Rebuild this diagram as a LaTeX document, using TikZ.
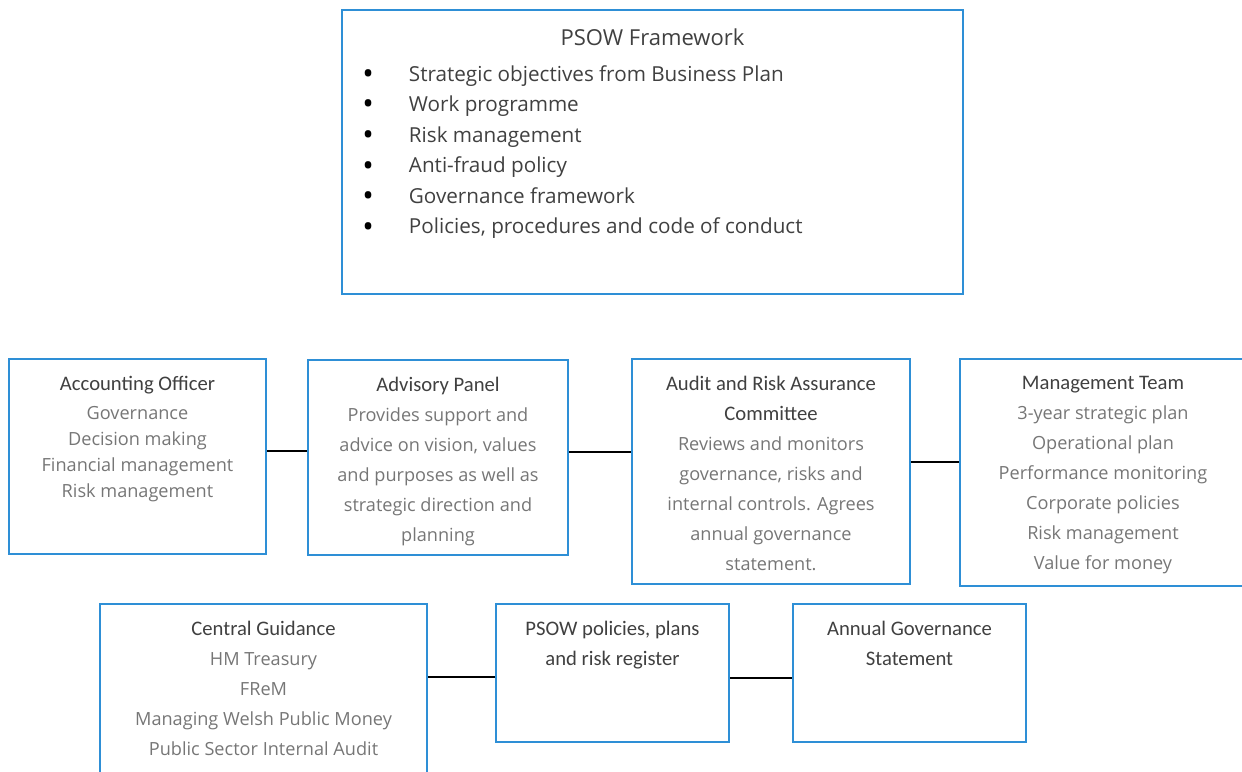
\documentclass[tikz,border=0pt]{standalone}
\usepackage{fontspec}
\setmainfont{Open Sans}
\newfontfamily\headfont{Carlito}
\usetikzlibrary{positioning}
\definecolor{boxblue}{RGB}{46,143,214}
\definecolor{headgray}{RGB}{64,64,64}
\definecolor{bodygray}{RGB}{118,118,118}
\newcommand{\hd}[1]{{\headfont\fontsize{15.5}{22.5}\selectfont\color{headgray}#1}}
\newcommand{\bul}{\makebox[35pt][l]{\raisebox{-2.5pt}{\fontsize{23}{20}\selectfont\color{black}\textbullet}}}
\tikzset{
  panel/.style={draw=boxblue, line width=1.5pt, anchor=north west, inner sep=0pt},
  panel text/.style={align=center, text=bodygray, inner sep=0pt, font=\fontsize{13.6}{22.5}\selectfont},
  link/.style={line width=1.5pt, black}
}
\begin{document}
\begin{tikzpicture}[x=0.75pt, y=-0.75pt]
  \clip (0,0) rectangle (1242,771);
  % frame at the top
  \node[panel, minimum width=465.75pt, minimum height=213pt] (frame) at (341,9) {};
  \node[below=14.5pt of frame.north, text=headgray, inner sep=0pt, font=\fontsize{16.5}{20}\selectfont] (frametitle) {PSOW Framework};
  \node[below right=42pt and 15.75pt of frame.north west, anchor=north west, align=left, text=headgray, inner sep=0pt,
        font=\fontsize{15.5}{22.9}\selectfont] (framelist)
    {\bul Strategic objectives from Business Plan\\
     \bul Work programme\\
     \bul Risk management\\
     \bul Anti-fraud policy\\
     \bul Governance framework\\
     \bul Policies, procedures and code of conduct};
  % middle row
  \node[panel, minimum width=192.75pt, minimum height=146.25pt] (ao) at (8,358) {};
  \node[panel, minimum width=195pt, minimum height=146.25pt] (ap) at (307,359) {};
  \node[panel, minimum width=208.5pt, minimum height=168.75pt] (au) at (631,358) {};
  \node[panel, minimum width=214.5pt, minimum height=170.25pt] (mt) at (959,358) {};
  \node[panel text, below=13.5pt of ao.north, font=\fontsize{13.6}{19.5}\selectfont] (aotext)
    {\hd{Accounting Officer}\\[2.5pt] Governance\\ Decision making\\ Financial management\\ Risk management};
  \node[panel text, below=13.5pt of ap.north] (aptext)
    {\hd{Advisory Panel}\\ Provides support and\\ advice on vision, values\\ and purposes as well as\\ strategic direction and\\ planning};
  \node[panel text, below=13.5pt of au.north] (autext)
    {\hd{Audit and Risk Assurance}\\ \hd{Committee}\\ Reviews and monitors\\ governance, risks and\\ internal controls. Agrees\\ annual governance\\ statement.};
  \node[panel text, below=13.5pt of mt.north] (mttext)
    {\hd{Management Team}\\ 3-year strategic plan\\ Operational plan\\ Performance monitoring\\ Corporate policies\\ Risk management\\ Value for money};
  % bottom row
  \node[panel, minimum width=245.25pt, minimum height=150pt] (cg) at (99,603) {};
  \node[panel, minimum width=174.75pt, minimum height=103.5pt] (pp) at (495,603) {};
  \node[panel, minimum width=174.75pt, minimum height=103.5pt] (ag) at (792,603) {};
  \node[panel text, below=13.5pt of cg.north] (cgtext)
    {\hd{Central Guidance}\\ HM Treasury\\ FReM\\ Managing Welsh Public Money\\ Public Sector Internal Audit};
  \node[panel text, below=13.5pt of pp.north] (pptext)
    {\hd{PSOW policies, plans}\\ \hd{and risk register}};
  \node[panel text, below=13.5pt of ag.north] (agtext)
    {\hd{Annual Governance}\\ \hd{Statement}};
  % connectors
  \draw[link] ([yshift=4pt]ao.east) -- ([yshift=4pt]ao.east -| ap.west);
  \draw[link] ([yshift=4.5pt]ap.east) -- ([yshift=4.5pt]ap.east -| au.west);
  \draw[link] ([yshift=7.5pt]au.east) -- ([yshift=7.5pt]au.east -| mt.west);
  \draw[link] ([yshift=-3pt]pp.west) -- ([yshift=-3pt]pp.west -| cg.east);
  \draw[link] ([yshift=-3.75pt]pp.east) -- ([yshift=-3.75pt]pp.east -| ag.west);
\end{tikzpicture}
\end{document}
